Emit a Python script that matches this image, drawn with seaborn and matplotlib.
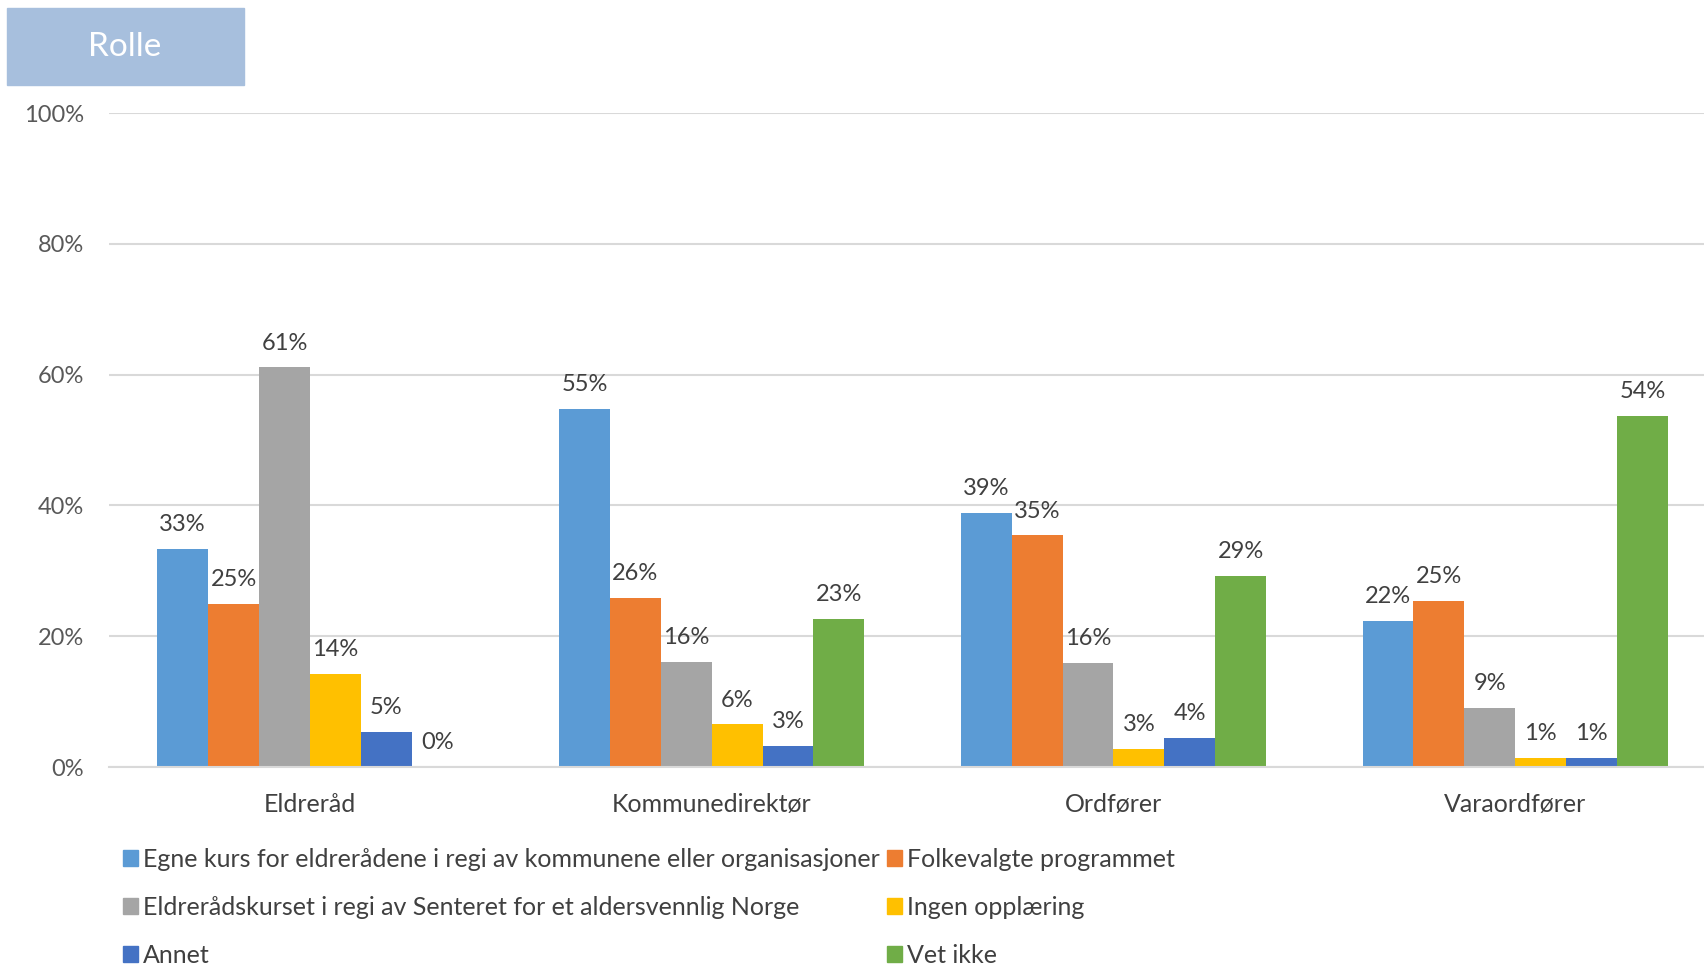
import pandas as pd
import numpy as np
import matplotlib.pyplot as plt
import seaborn as sns
from matplotlib.patches import Rectangle

roles = ["Eldreråd", "Kommunedirektør", "Ordfører", "Varaordfører"]
series = ["Egne kurs for eldrerådene i regi av kommunene eller organisasjoner",
          "Folkevalgte programmet",
          "Eldrerådskurset i regi av Senteret for et aldersvennlig Norge",
          "Ingen opplæring",
          "Annet",
          "Vet ikke"]
egne = [33.3, 54.8, 38.9, 22.4]
folkevalgte = [25.0, 25.8, 35.4, 25.4]
kurset = [61.1, 16.1, 15.9, 9.0]
ingen = [14.2, 6.5, 2.7, 1.4]
annet = [5.3, 3.2, 4.4, 1.4]
vet_ikke = [0.0, 22.6, 29.2, 53.7]
colors = ["#5B9BD5", "#ED7D31", "#A5A5A5", "#FFC000", "#4472C4", "#70AD47"]

rows = []
for name, vals in zip(series, [egne, folkevalgte, kurset, ingen, annet, vet_ikke]):
    for r, v in zip(roles, vals):
        rows.append({"Rolle": r, "Svar": name, "Andel": v})
df = pd.DataFrame(rows)

sns.set_style("white")
plt.rcParams['font.family'] = ['Lato', 'DejaVu Sans']

fig = plt.figure(figsize=(17.04, 9.66), dpi=100)
ax = fig.add_axes([0.064, 0.206, 0.936, 0.677])
sns.barplot(data=df, x="Rolle", y="Andel", hue="Svar", hue_order=series,
            palette=colors, width=0.76, gap=0, saturation=1, ax=ax,
            errorbar=None, edgecolor="none", legend=False)

# data labels over each bar
for cont in ax.containers:
    ax.bar_label(cont, labels=[f"{v:.0f}%" for v in cont.datavalues],
                 padding=10, fontsize=17, color="#404040")

ax.set_ylim(0, 100)
ax.set_xlim(-0.5, 3.47)
ax.set_yticks(range(0, 101, 20))
ax.set_yticklabels([f"{t}%" for t in range(0, 101, 20)])
ax.yaxis.grid(True, color="#D9D9D9", linewidth=1.5)
ax.set_axisbelow(True)
for s in ["top", "right", "left"]:
    ax.spines[s].set_visible(False)
ax.spines["bottom"].set_color("#D9D9D9")
ax.spines["bottom"].set_linewidth(1.5)
ax.tick_params(axis="y", length=0, labelsize=17, labelcolor="#595959", pad=18)
ax.tick_params(axis="x", length=0, labelsize=18, labelcolor="#404040", pad=19)
ax.set_xlabel("")
ax.set_ylabel("")

# legend, filled row by row like the original
handles = [Rectangle((0, 0), 1, 1, color=c) for c in colors]
order = [0, 2, 4, 1, 3, 5]
fig.legend([handles[i] for i in order], [series[i] for i in order],
           loc="upper left", bbox_to_anchor=(0.072, 0.122), ncol=2,
           frameon=False, fontsize=18, labelcolor="#404040",
           handlelength=0.6, handleheight=0.6, handletextpad=0.2,
           columnspacing=0.3, labelspacing=1.0, borderaxespad=0, borderpad=0)

# title box
fig.patches.append(Rectangle((7 / 1704, 1 - 85 / 966), 237 / 1704, 77 / 966,
                             transform=fig.transFigure, color="#A7BFDD"))
fig.text(125 / 1704, 1 - 47 / 966, "Rolle", color="white", fontsize=24,
         ha="center", va="center")

fig.savefig("out.png", dpi=100)
